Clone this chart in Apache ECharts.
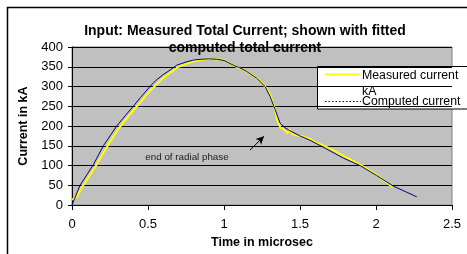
<!DOCTYPE html>
<html><head><meta charset="utf-8">
<script src="https://cdn.jsdelivr.net/npm/echarts@6/dist/echarts.min.js"></script>
<style>html,body{margin:0;padding:0;background:#fff}#c{width:467px;height:254px}</style>
</head><body><div id="c"></div>
<script>
var measuredTime = [0, 0.03, 0.06, 0.1, 0.15, 0.2, 0.25, 0.3, 0.35, 0.4, 0.45, 0.5, 0.6, 0.7, 0.8, 0.9, 1.0, 1.06, 1.15, 1.22, 1.27, 1.3, 1.33, 1.35, 1.37, 1.39, 1.42, 1.43, 1.45, 1.48, 1.51, 1.55, 1.6, 1.7, 1.8, 1.9, 2.0, 2.11];
var measuredCurrent = [14, 20, 42, 65, 95, 128, 160, 190, 215, 238, 260, 284, 322, 350, 364, 370, 367, 354, 337, 320, 300, 282, 250, 215, 196, 192, 182, 192, 179, 176, 175, 170, 160, 143, 122, 101, 78, 45];
var computedTime = [0, 0.053, 0.1, 0.14, 0.206, 0.25, 0.294, 0.35, 0.403, 0.45, 0.513, 0.55, 0.6, 0.65, 0.689, 0.75, 0.8, 0.85, 0.9, 0.95, 1.0, 1.061, 1.1, 1.149, 1.215, 1.27, 1.303, 1.336, 1.368, 1.401, 1.434, 1.5, 1.566, 1.675, 1.785, 1.895, 2.004, 2.114, 2.2, 2.268];
var computedCurrent = [0, 50, 78, 102, 150, 175, 200, 226, 250, 272, 300, 315, 330, 343, 354, 362, 367, 369, 370, 369, 366, 354, 348, 338, 321, 300, 275, 242, 208, 196, 188, 175, 164, 142, 119, 100, 75, 48, 33, 21];
var xTicks = [0, 0.5, 1, 1.5, 2, 2.5];
var yTicks = [0, 50, 100, 150, 200, 250, 300, 350, 400];
var seriesNames = ['Measured current kA', 'Computed current'];
var arrowStart = [1.171, 139];
var arrowEnd = [1.263, 174];

function pairs(t, v) { return t.map(function (x, i) { return [x, v[i]]; }); }

var chart = echarts.init(document.getElementById('c'), null, {renderer: 'canvas'});
var F = 'Liberation Sans, Arial, sans-serif';
chart.setOption({
  animation: false,
  backgroundColor: '#fff',
  title: {
    text: 'Input: Measured Total Current; shown with fitted\ncomputed total current',
    left: 240, textAlign: 'center', top: 18,
    textStyle: {fontFamily: F, fontSize: 14, fontWeight: 'bold', color: '#000', lineHeight: 16.5}
  },
  grid: {left: 72, top: 47, right: 15, bottom: 47, show: true, backgroundColor: '#C0C0C0', borderColor: '#808080', borderWidth: 1},
  xAxis: {
    type: 'value', min: 0, max: 2.5, interval: 0.5,
    name: 'Time in microsec', nameLocation: 'middle', nameGap: 29,
    nameTextStyle: {fontFamily: F, fontSize: 12.5, fontWeight: 'bold', color: '#000'},
    axisLine: {show: true, lineStyle: {color: '#000', width: 1}},
    axisTick: {show: true, length: 5, lineStyle: {color: '#000'}},
    axisLabel: {fontFamily: F, fontSize: 13, color: '#000', margin: 13,
      formatter: function (v) { return xTicks.indexOf(v) >= 0 ? String(v) : ''; }},
    splitLine: {show: false}
  },
  yAxis: {
    type: 'value', min: 0, max: 400, interval: 50,
    name: 'Current in kA', nameLocation: 'middle', nameGap: 36,
    nameTextStyle: {fontFamily: F, fontSize: 12.5, fontWeight: 'bold', color: '#000'},
    axisLine: {show: true, lineStyle: {color: '#000', width: 1}},
    axisTick: {show: true, length: 4, lineStyle: {color: '#000'}},
    axisLabel: {fontFamily: F, fontSize: 13, color: '#000', margin: 9,
      formatter: function (v) { return yTicks.indexOf(v) >= 0 ? String(v) : ''; }},
    splitLine: {show: true, lineStyle: {color: '#000', width: 1}}
  },
  series: [
    {name: seriesNames[0], type: 'line', data: pairs(measuredTime, measuredCurrent), showSymbol: false,
     lineStyle: {color: '#FFFF00', width: 2}, itemStyle: {color: '#FFFF00'}},
    {name: seriesNames[1], type: 'line', data: pairs(computedTime, computedCurrent), showSymbol: false,
     lineStyle: {color: '#000080', width: 1}, itemStyle: {color: '#000080'},
     markLine: {silent: true, symbol: ['none', 'arrow'], symbolSize: [6, 8],
       lineStyle: {color: '#000', width: 1, type: 'solid'}, label: {show: false},
       data: [[{coord: arrowStart}, {coord: arrowEnd}]]}}
  ],
  graphic: [
    {type: 'rect', shape: {x: 7.5, y: 7.5, width: 520, height: 300}, style: {fill: 'none', stroke: '#000', lineWidth: 1.5}, z: 100},
    {type: 'text', x: 187, y: 157.7, style: {text: 'end of radial phase', font: '9.8px ' + F, fill: '#222', align: 'center', verticalAlign: 'middle'}, z: 100},
    {type: 'group', x: 317, y: 66, z: 110, children: [
      {type: 'rect', shape: {x: 0.5, y: 0.5, width: 160, height: 42.5}, style: {fill: '#fff', stroke: '#000', lineWidth: 1}},
      {type: 'line', shape: {x1: 8, y1: 8.5, x2: 43, y2: 8.5}, style: {stroke: '#FFFF00', lineWidth: 2}},
      {type: 'text', x: 45, y: 17.5, style: {text: 'Measured current\nkA', font: '12.3px ' + F, fill: '#000', lineHeight: 15.7, verticalAlign: 'middle'}},
      {type: 'line', shape: {x1: 8, y1: 35.5, x2: 44, y2: 35.5}, style: {stroke: '#000080', lineWidth: 1, lineDash: [1.5, 2]}},
      {type: 'text', x: 45, y: 35.7, style: {text: 'Computed current', font: '12.3px ' + F, fill: '#000', verticalAlign: 'middle'}}
    ]}
  ]
});
</script></body></html>
